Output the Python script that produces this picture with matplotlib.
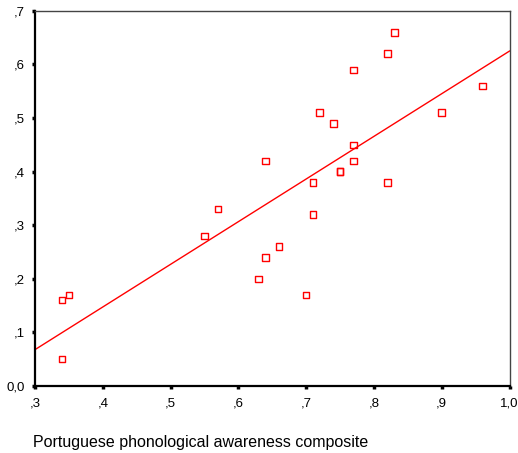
import numpy as np
import matplotlib
matplotlib.use('Agg')
import matplotlib.pyplot as plt

# data
x_vals = [0.34, 0.35, 0.34, 0.55, 0.57, 0.63, 0.64, 0.64, 0.66, 0.70, 0.71, 0.71,
          0.72, 0.74, 0.75, 0.75, 0.77, 0.77, 0.77, 0.82, 0.82, 0.83, 0.90, 0.96]
y_vals = [0.16, 0.17, 0.05, 0.28, 0.33, 0.20, 0.24, 0.42, 0.26, 0.17, 0.32, 0.38,
          0.51, 0.49, 0.40, 0.40, 0.42, 0.45, 0.59, 0.38, 0.62, 0.66, 0.51, 0.56]

# fit line as drawn
fit_slope = 0.796
fit_intercept = -0.171

xticks = [0.3, 0.4, 0.5, 0.6, 0.7, 0.8, 0.9, 1.0]
xlabels = [',3', ',4', ',5', ',6', ',7', ',8', ',9', '1,0']
yticks = [0.0, 0.1, 0.2, 0.3, 0.4, 0.5, 0.6, 0.7]
ylabels = ['0,0', ',1', ',2', ',3', ',4', ',5', ',6', ',7']

plt.rcParams['font.family'] = ['Liberation Sans', 'DejaVu Sans']

fig = plt.figure(figsize=(5.18, 4.53), dpi=100, facecolor='white')
ax = fig.add_axes([0.0676, 0.148, 0.916, 0.828])

ax.scatter(x_vals, y_vals, marker='s', s=22, facecolors='none',
           edgecolors='#ff0000', linewidths=1.0, zorder=3)

lx = np.array([0.3, 1.0])
ax.plot(lx, fit_intercept + fit_slope * lx, color='#ff0000', lw=1.0)

ax.set_xlim(0.3, 1.0)
ax.set_ylim(0.0, 0.7)
ax.set_xticks(xticks)
ax.set_xticklabels(xlabels)
ax.set_yticks(yticks)
ax.set_yticklabels(ylabels)
ax.tick_params(length=2.5, width=2.5, color='black', labelsize=9.5, pad=5)
ax.tick_params(axis='x', pad=6)

for s in ['left', 'bottom']:
    ax.spines[s].set_linewidth(1.6)
    ax.spines[s].set_color('black')
for s in ['top', 'right']:
    ax.spines[s].set_linewidth(1.0)
    ax.spines[s].set_color('#444444')

fig.text(0.064, 0.014, 'Portuguese phonological awareness composite',
         fontsize=11.5, ha='left', va='baseline')

fig.savefig('out.png', dpi=100)
